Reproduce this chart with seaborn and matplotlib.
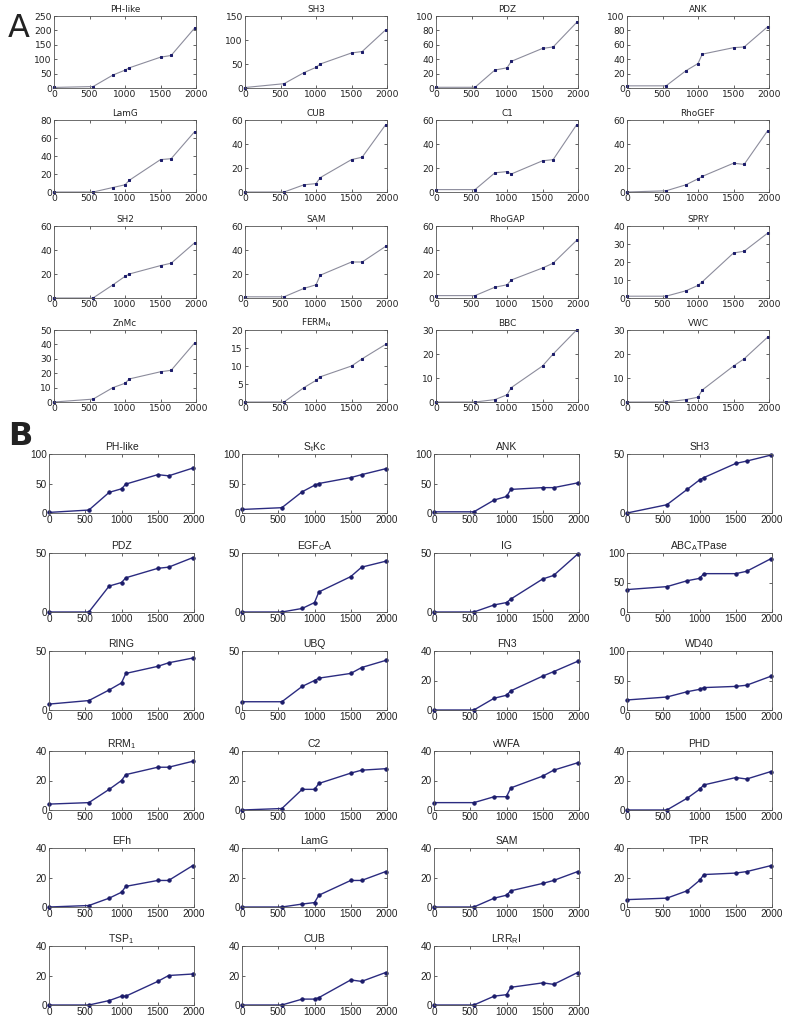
import numpy as np
import pandas as pd
import matplotlib
matplotlib.use("Agg")
import matplotlib.pyplot as plt
import seaborn as sns

# ---------------- data ----------------
x_vals = [0, 550, 830, 1000, 1060, 1500, 1650, 1980]
x_ticks = [0, 500, 1000, 1500, 2000]

a_titles = ["PH-like", "SH3", "PDZ", "ANK",
            "LamG", "CUB", "C1", "RhoGEF",
            "SH2", "SAM", "RhoGAP", "SPRY",
            "ZnMc", r"FERM$_\mathrm{N}$", "BBC", "VWC"]
a_ph_like = [2, 5, 45, 62, 70, 107, 113, 208]
a_sh3 = [1, 9, 32, 43, 50, 73, 76, 121]
a_pdz = [1, 1, 25, 28, 37, 55, 57, 91]
a_ank = [3, 3, 24, 34, 47, 56, 57, 85]
a_lamg = [0, 0, 5, 8, 13, 36, 37, 67]
a_cub = [0, 0, 6, 7, 12, 27, 29, 56]
a_c1 = [2, 2, 16, 17, 15, 26, 27, 56]
a_rhogef = [0, 1, 6, 11, 13, 24, 23, 51]
a_sh2 = [0, 0, 11, 18, 20, 27, 29, 46]
a_sam = [1, 1, 8, 11, 19, 30, 30, 43]
a_rhogap = [2, 2, 9, 11, 15, 25, 29, 48]
a_spry = [1, 1, 4, 7, 9, 25, 26, 36]
a_znmc = [0, 2, 10, 13, 16, 21, 22, 41]
a_ferm = [0, 0, 4, 6, 7, 10, 12, 16]
a_bbc = [0, 0, 1, 3, 6, 15, 20, 30]
a_vwc = [0, 0, 1, 2, 5, 15, 18, 27]
a_series = [a_ph_like, a_sh3, a_pdz, a_ank, a_lamg, a_cub, a_c1, a_rhogef,
            a_sh2, a_sam, a_rhogap, a_spry, a_znmc, a_ferm, a_bbc, a_vwc]
a_ymax = [250, 150, 100, 100, 80, 60, 60, 60, 60, 60, 60, 40, 50, 20, 30, 30]
a_ystep = [50, 50, 20, 20, 20, 20, 20, 20, 20, 20, 20, 10, 10, 5, 10, 10]

b_titles = ["PH-like", r"S$_\mathrm{t}$Kc", "ANK", "SH3",
            "PDZ", r"EGF$_\mathrm{C}$A", "IG", r"ABC$_\mathrm{A}$TPase",
            "RING", "UBQ", "FN3", "WD40",
            r"RRM$_\mathrm{1}$", "C2", "vWFA", "PHD",
            "EFh", "LamG", "SAM", "TPR",
            r"TSP$_\mathrm{1}$", "CUB", r"LRR$_\mathrm{R}$I"]
b_ph_like = [1, 5, 35, 41, 49, 65, 63, 76]
b_stkc = [6, 9, 36, 47, 50, 60, 65, 75]
b_ank = [2, 2, 22, 28, 40, 43, 43, 51]
b_sh3 = [0, 7, 20, 28, 30, 42, 44, 49]
b_pdz = [0, 0, 22, 25, 29, 37, 38, 46]
b_egfca = [0, 0, 3, 8, 17, 30, 38, 43]
b_ig = [0, 0, 6, 8, 11, 28, 31, 49]
b_abcatpase = [38, 43, 53, 57, 65, 65, 69, 90]
b_ring = [5, 8, 17, 23, 31, 37, 40, 44]
b_ubq = [7, 7, 20, 25, 27, 31, 36, 42]
b_fn3 = [0, 0, 8, 10, 13, 23, 26, 33]
b_wd40 = [17, 22, 31, 35, 38, 40, 42, 57]
b_rrm1 = [4, 5, 14, 20, 24, 29, 29, 33]
b_c2 = [0, 1, 14, 14, 18, 25, 27, 28]
b_vwfa = [5, 5, 9, 9, 15, 23, 27, 32]
b_phd = [0, 0, 8, 14, 17, 22, 21, 26]
b_efh = [0, 1, 6, 10, 14, 18, 18, 28]
b_lamg = [0, 0, 2, 3, 8, 18, 18, 24]
b_sam = [0, 0, 6, 8, 11, 16, 18, 24]
b_tpr = [5, 6, 11, 18, 22, 23, 24, 28]
b_tsp1 = [0, 0, 3, 6, 6, 16, 20, 21]
b_cub = [0, 0, 4, 4, 5, 17, 16, 22]
b_lrrri = [0, 0, 6, 7, 12, 15, 14, 22]
b_series = [b_ph_like, b_stkc, b_ank, b_sh3, b_pdz, b_egfca, b_ig, b_abcatpase,
            b_ring, b_ubq, b_fn3, b_wd40, b_rrm1, b_c2, b_vwfa, b_phd,
            b_efh, b_lamg, b_sam, b_tpr, b_tsp1, b_cub, b_lrrri]
b_ymax = [100, 100, 100, 50, 50, 50, 50, 100, 50, 50, 40, 100,
          40, 40, 40, 40, 40, 40, 40, 40, 40, 40, 40]
b_ystep = [50, 50, 50, 50, 50, 50, 50, 50, 50, 50, 20, 50,
           20, 20, 20, 20, 20, 20, 20, 20, 20, 20, 20]

# ---------------- layout ----------------
sns.set_style("ticks")
plt.rcParams["font.family"] = ["DejaVu Sans"]
plt.rcParams["mathtext.fontset"] = "custom"
plt.rcParams["mathtext.rm"] = "Liberation Sans"
W, H = 790, 1026
fig = plt.figure(figsize=(W / 100, H / 100), dpi=100)

a_lefts = [54, 245, 436, 627]
a_tops = [16, 120, 226, 330]
a_w, a_h = 142, 72
b_lefts = [49, 242, 434, 627]
b_tops = [454, 553, 651, 751, 848, 946]
b_w, b_h = 145, 59

B_FONT = ["Liberation Sans Narrow", "Liberation Sans", "DejaVu Sans"]


def style_ax(ax, ymax, ystep, font, fs, stretch="normal"):
    ax.set_xlim(0, 2000)
    ax.set_ylim(0, ymax)
    ax.set_xticks(x_ticks)
    ax.set_yticks(np.arange(0, ymax + 0.1, ystep))
    ax.tick_params(direction="in", length=2, width=0.5, top=True, right=True,
                   labelsize=fs, pad=1.5, colors="#222222")
    for lab in ax.get_xticklabels() + ax.get_yticklabels():
        lab.set_family(font)
        lab.set_fontstretch(stretch)
    for s in ax.spines.values():
        s.set_linewidth(0.6)
        s.set_color("#555555")
    ax.set_xlabel("")
    ax.set_ylabel("")


for i, (title, vals) in enumerate(zip(a_titles, a_series)):
    r, c = divmod(i, 4)
    ax = fig.add_axes([a_lefts[c] / W, 1 - (a_tops[r] + a_h) / H, a_w / W, a_h / H])
    df = pd.DataFrame({"x": x_vals, "y": vals})
    sns.lineplot(data=df, x="x", y="y", ax=ax, color="#8c8c9c", linewidth=0.8,
                 marker="s", markersize=1.7, markerfacecolor="#1c1c6a",
                 markeredgecolor="#1c1c6a", clip_on=False)
    style_ax(ax, a_ymax[i], a_ystep[i], "DejaVu Sans", 6.6)
    ax.set_title(title, fontsize=6.4, pad=3, color="#222222")

for i, (title, vals) in enumerate(zip(b_titles, b_series)):
    r, c = divmod(i, 4)
    ax = fig.add_axes([b_lefts[c] / W, 1 - (b_tops[r] + b_h) / H, b_w / W, b_h / H])
    df = pd.DataFrame({"x": x_vals, "y": vals})
    sns.lineplot(data=df, x="x", y="y", ax=ax, color="#2b2b80", linewidth=1.0,
                 marker="o", markersize=2.4, markerfacecolor="#1c1c6a",
                 markeredgecolor="#1c1c6a", clip_on=False)
    style_ax(ax, b_ymax[i], b_ystep[i], B_FONT, 7.2, "condensed")
    ax.set_title(title, fontsize=7.5, pad=3, color="#222222",
                 family=B_FONT, fontstretch="condensed")

fig.text(8 / W, 1 - 37 / H, "A", fontsize=23, color="#222222")
fig.text(8 / W, 1 - 445 / H, "B", fontsize=23, color="#222222", fontweight="bold")

fig.savefig("out.png", dpi=100, facecolor="white")
